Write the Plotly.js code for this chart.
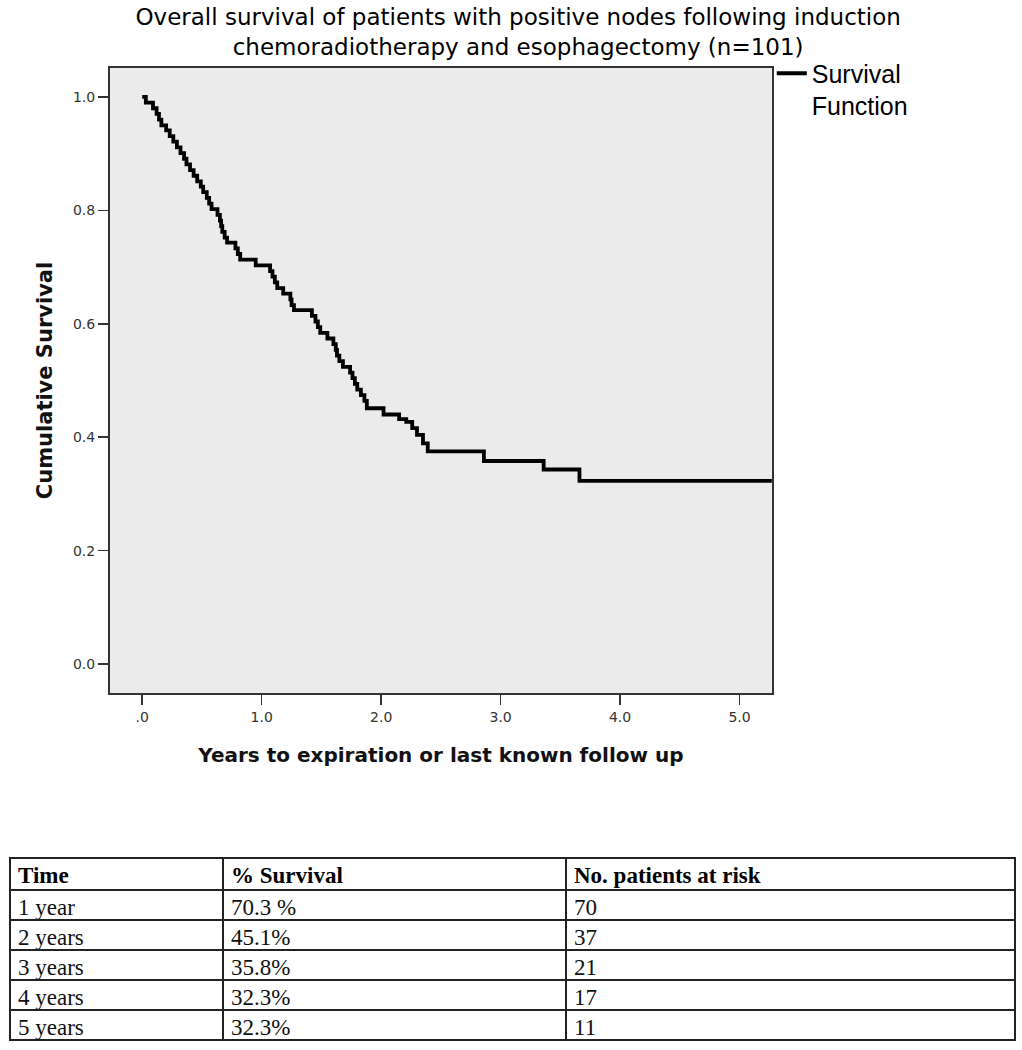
<!DOCTYPE html>
<html>
<head>
<meta charset="utf-8">
<script src="https://cdn.plot.ly/plotly-3.0.1.min.js"></script>
<style>
  html, body { margin: 0; padding: 0; background: #ffffff; }
  #chart { width: 1022px; height: 1050px; }
</style>
</head>
<body>
<div id="chart"></div>
<script>
// Kaplan-Meier step points (years, cumulative survival)
const years = [
  0.00, 0.03, 0.09, 0.12, 0.14, 0.16, 0.20, 0.23, 0.26, 0.29, 0.32,
  0.35, 0.37, 0.40, 0.43, 0.46, 0.49, 0.51, 0.54, 0.56, 0.58,
  0.63, 0.65, 0.66, 0.67, 0.69, 0.71, 0.78, 0.80, 0.82, 0.95,
  1.07, 1.09, 1.11, 1.13, 1.18, 1.24, 1.25, 1.27,
  1.42, 1.45, 1.47, 1.49, 1.55, 1.60, 1.62, 1.63, 1.65, 1.68,
  1.74, 1.76, 1.78, 1.80, 1.83, 1.86, 1.88,
  2.02, 2.15, 2.21, 2.26, 2.30, 2.35, 2.39,
  2.86, 3.36, 3.66, 5.40
];
const survival = [
  1.000, 0.990, 0.980, 0.970, 0.960, 0.950, 0.941, 0.931, 0.921, 0.911, 0.901,
  0.891, 0.881, 0.871, 0.861, 0.851, 0.842, 0.832, 0.822, 0.812, 0.802,
  0.792, 0.782, 0.772, 0.762, 0.752, 0.743, 0.733, 0.723, 0.713, 0.703,
  0.693, 0.683, 0.673, 0.663, 0.653, 0.643, 0.633, 0.624,
  0.614, 0.604, 0.594, 0.584, 0.574, 0.564, 0.554, 0.544, 0.534, 0.524,
  0.514, 0.504, 0.494, 0.484, 0.474, 0.464, 0.451,
  0.440, 0.432, 0.427, 0.416, 0.404, 0.389, 0.375,
  0.358, 0.343, 0.323, 0.323
];

const xTickVals = [0, 1, 2, 3, 4, 5];
const xTickText = ['.0', '1.0', '2.0', '3.0', '4.0', '5.0'];
const yTickVals = [0, 0.2, 0.4, 0.6, 0.8, 1.0];
const yTickText = ['0.0', '0.2', '0.4', '0.6', '0.8', '1.0'];

// Summary table
const tableHeader = ['Time', '% Survival', 'No. patients at risk'];
const tableTime = ['1 year', '2 years', '3 years', '4 years', '5 years'];
const tableSurvival = ['70.3 %', '45.1%', '35.8%', '32.3%', '32.3%'];
const tableAtRisk = ['70', '37', '21', '17', '11'];

const sans = 'Liberation Sans, Arial, sans-serif';
const wide = 'DejaVu Sans, Verdana, sans-serif';
const serif = 'Liberation Serif, Times New Roman, serif';

const curve = {
  type: 'scatter',
  mode: 'lines',
  x: years,
  y: survival,
  name: 'Survival<br>Function',
  line: { shape: 'hv', color: '#000000', width: 3.8 },
  hoverinfo: 'x+y',
  showlegend: true,
  xaxis: 'x',
  yaxis: 'y'
};

const table = {
  type: 'table',
  domain: { x: [0, 1], y: [0, 0.1881] },
  columnwidth: [213, 343, 449],
  header: {
    values: tableHeader,
    align: 'left',
    height: 32,
    line: { color: '#222222', width: 2 },
    fill: { color: '#ffffff' },
    font: { family: serif, size: 23, color: '#000000', weight: 'bold' }
  },
  cells: {
    values: [tableTime, tableSurvival, tableAtRisk],
    align: 'left',
    height: 30,
    line: { color: '#222222', width: 2 },
    fill: { color: '#ffffff' },
    font: { family: serif, size: 23, color: '#111111' }
  },
  showlegend: false
};

const layout = {
  width: 1022,
  height: 1050,
  paper_bgcolor: '#ffffff',
  plot_bgcolor: '#ebebeb',
  margin: { l: 10, r: 7, t: 68, b: 9 },
  title: {
    text: 'Overall survival of patients with positive nodes following induction<br>chemoradiotherapy and esophagectomy (n=101)',
    font: { family: wide, size: 23, color: '#000000' },
    x: 0.507, xref: 'container', xanchor: 'center',
    y: 0.976, yref: 'container', yanchor: 'top'
  },
  xaxis: {
    domain: [0.0995, 0.758],
    range: [-0.27, 5.27],
    tickvals: xTickVals,
    ticktext: xTickText,
    ticks: 'outside',
    ticklen: 10,
    tickwidth: 1.5,
    tickcolor: '#333333',
    showgrid: false,
    zeroline: false,
    showline: true,
    mirror: true,
    linecolor: '#333333',
    linewidth: 2,
    tickfont: { family: wide, size: 14, color: '#333333' },
    title: {
      text: 'Years to expiration or last known follow up',
      font: { family: wide, size: 20, color: '#111111', weight: 'bold' },
      standoff: 24
    },
    automargin: false
  },
  yaxis: {
    domain: [0.3577, 1],
    range: [-0.051, 1.051],
    tickvals: yTickVals,
    ticktext: yTickText,
    ticks: 'outside',
    ticklen: 10,
    tickwidth: 1.5,
    tickcolor: '#333333',
    showgrid: false,
    zeroline: false,
    showline: true,
    mirror: true,
    linecolor: '#333333',
    linewidth: 2,
    tickfont: { family: wide, size: 14, color: '#333333' },
    title: {
      text: 'Cumulative Survival',
      font: { family: wide, size: 21, color: '#111111', weight: 'bold' },
      standoff: 15
    },
    automargin: false
  },
  showlegend: true,
  legend: {
    x: 0.758, xanchor: 'left',
    y: 1.018, yanchor: 'top',
    bgcolor: 'rgba(0,0,0,0)',
    font: { family: sans, size: 25, color: '#000000' },
    valign: 'top',
    itemwidth: 30,
    tracegroupgap: 0
  }
};

Plotly.newPlot('chart', [curve, table], layout, { displayModeBar: false, staticPlot: true });
</script>
</body>
</html>
